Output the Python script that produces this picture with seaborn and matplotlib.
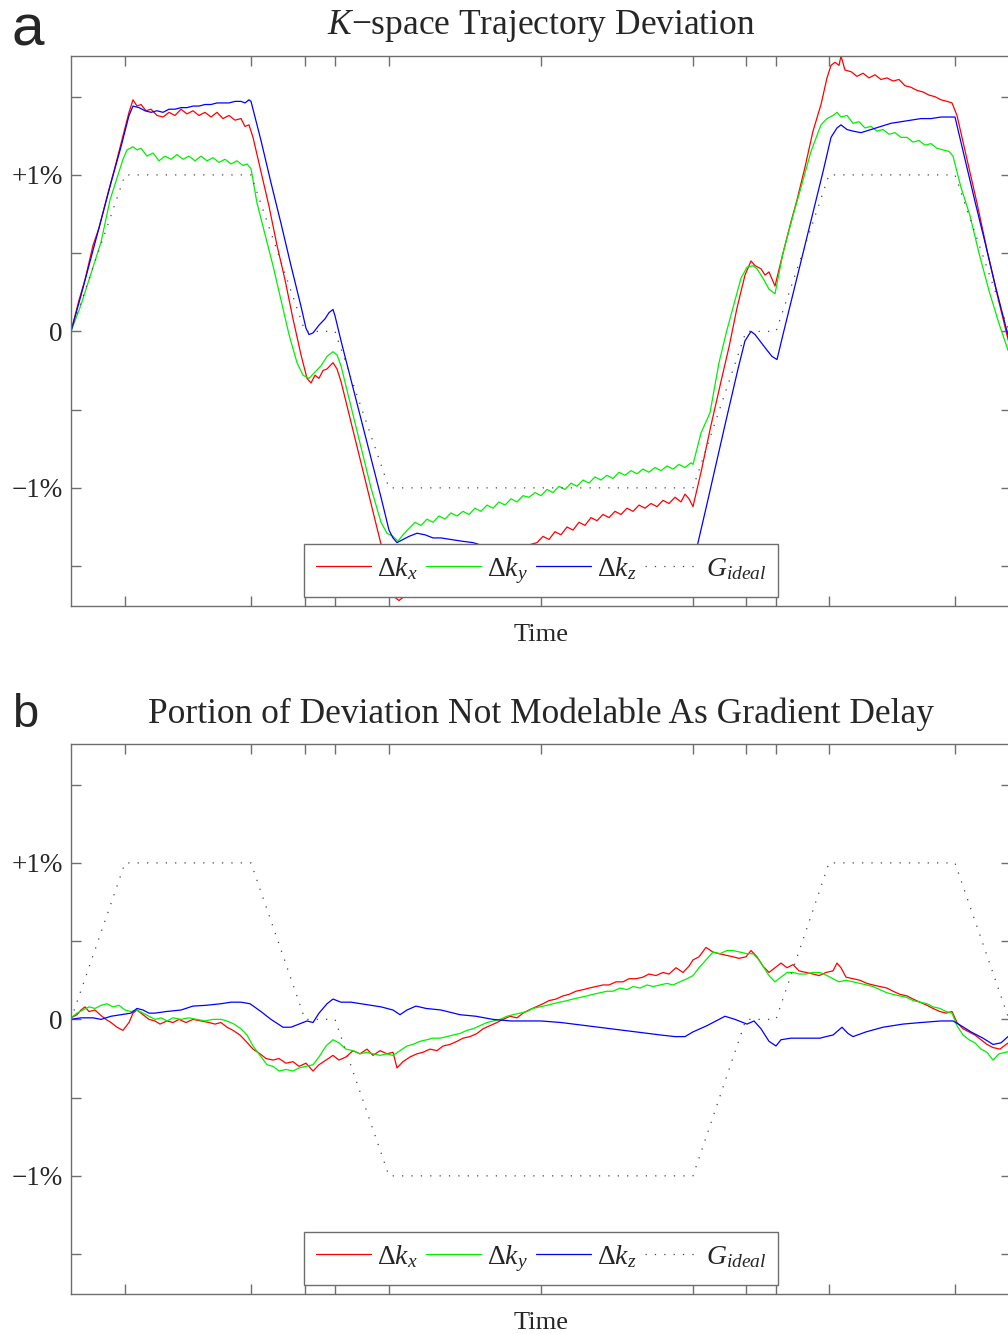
import matplotlib
matplotlib.use("Agg")
import matplotlib.pyplot as plt
import seaborn as sns
import pandas as pd

# ---------------- data ----------------
# time axis in arbitrary units (0 .. 940)
g_t = [0, 54, 180, 234, 264, 318, 622, 675, 705, 758, 884, 938]
g_v = [0, 1, 1, 0, 0, -1, -1, 0, 0, 1, 1, 0]

# Panel a: K-space trajectory deviation (%)
a_red_t = [0, 8, 14, 22, 28, 36, 44, 52, 58, 62, 66, 70, 75, 80, 86, 92, 98, 104, 110, 116, 122, 128, 134, 140,
           146, 152, 158, 164, 170, 174, 178,
           182, 190, 198, 206, 214, 222, 230, 236, 240, 244, 248, 252, 256, 262, 266, 270, 280, 290, 300, 310,
           318, 324, 328,
           340, 360, 380, 400, 420, 440, 455, 466,
           472, 478, 484, 490, 496, 502, 508, 514, 520, 526, 532, 538, 544, 550, 556, 562, 568, 574, 580, 586,
           592, 598, 604, 610, 614, 618, 622,
           630, 640, 650, 658, 666, 674, 680, 684, 690, 694, 698, 704,
           712, 720, 726, 734, 742, 750, 756, 760, 764, 768, 770, 774, 780, 786, 792, 798, 804, 810, 816, 822,
           828, 834, 840, 846, 852, 858, 864, 870, 876, 881,
           886, 896, 906, 916, 926, 937, 940]
a_red_v = [0, 0.20, 0.33, 0.55, 0.66, 0.86, 1.05, 1.25, 1.40, 1.48, 1.44, 1.45, 1.41, 1.42, 1.38, 1.37, 1.40,
           1.38, 1.42, 1.39, 1.41, 1.38, 1.40, 1.37, 1.40, 1.36, 1.38, 1.35, 1.36, 1.31, 1.32,
           1.24, 1.02, 0.80, 0.55, 0.33, 0.08, -0.15, -0.30, -0.33, -0.28, -0.30, -0.25, -0.24, -0.20, -0.24,
           -0.32, -0.58, -0.84, -1.10, -1.36, -1.56, -1.70, -1.72,
           -1.66, -1.60, -1.54, -1.49, -1.44, -1.40, -1.37, -1.35,
           -1.31, -1.33, -1.28, -1.30, -1.25, -1.27, -1.22, -1.24, -1.19, -1.21, -1.17, -1.19, -1.15, -1.17,
           -1.13, -1.15, -1.11, -1.13, -1.10, -1.12, -1.08, -1.10, -1.06, -1.09, -1.04, -1.07, -1.12,
           -0.90, -0.60, -0.32, -0.10, 0.15, 0.36, 0.45, 0.42, 0.40, 0.36, 0.38, 0.29,
           0.50, 0.70, 0.84, 1.05, 1.28, 1.45, 1.62, 1.70, 1.72, 1.70, 1.76, 1.67, 1.66, 1.63, 1.65, 1.62,
           1.64, 1.61, 1.62, 1.60, 1.61, 1.57, 1.56, 1.54, 1.53, 1.51, 1.50, 1.48, 1.47, 1.46,
           1.38, 1.10, 0.82, 0.52, 0.24, -0.05, -0.12]

a_grn_t = [0, 10, 20, 30, 39, 46, 52, 56, 62, 66, 70, 76, 82, 88, 94, 100, 106, 112, 118, 124, 130, 136, 142,
           148, 154, 160, 166, 172, 176, 180,
           186, 194, 202, 210, 218, 226, 232, 238, 244, 250, 256, 262, 266, 270, 280, 290, 300, 310, 316, 322,
           327, 332, 338, 344, 350, 356, 362, 368, 374, 380, 386, 392, 398, 404, 410, 416, 422, 428, 434, 440,
           446, 452, 458, 464, 470, 476, 482, 488, 494, 500, 506, 512, 518, 524, 530, 536, 542, 548, 554, 560,
           566, 572, 578, 584, 590, 596, 602, 608, 614, 620, 622,
           630, 639, 648, 656, 664, 670, 676, 682, 686, 692, 698, 704, 712, 722, 730, 740, 750, 756, 762, 766,
           770, 776, 782, 788, 794, 800, 806, 812, 818, 824, 830, 836, 842, 848, 854, 860, 866, 872, 878, 882,
           890, 899, 908, 918, 928, 937, 940]
a_grn_v = [0, 0.17, 0.37, 0.57, 0.84, 0.98, 1.10, 1.16, 1.18, 1.16, 1.17, 1.12, 1.14, 1.09, 1.12, 1.10, 1.13,
           1.10, 1.12, 1.09, 1.12, 1.09, 1.11, 1.08, 1.10, 1.07, 1.09, 1.06, 1.07, 1.04,
           0.82, 0.62, 0.42, 0.20, -0.02, -0.20, -0.28, -0.30, -0.26, -0.22, -0.16, -0.13, -0.15, -0.22, -0.48,
           -0.74, -1.00, -1.22, -1.29, -1.31, -1.34, -1.30, -1.26, -1.22, -1.24, -1.20, -1.22, -1.18, -1.20,
           -1.16, -1.18, -1.15, -1.17, -1.13, -1.15, -1.11, -1.13, -1.09, -1.11, -1.07, -1.09, -1.05, -1.06,
           -1.03, -1.05, -1.01, -1.03, -0.99, -1.01, -0.97, -0.99, -0.95, -0.97, -0.93, -0.95, -0.92, -0.94,
           -0.90, -0.92, -0.89, -0.91, -0.88, -0.90, -0.87, -0.89, -0.86, -0.88, -0.85, -0.87, -0.84, -0.85,
           -0.65, -0.52, -0.20, 0.01, 0.20, 0.34, 0.41, 0.42, 0.40, 0.34, 0.27, 0.24, 0.50, 0.74, 0.92, 1.15,
           1.32, 1.36, 1.38, 1.40, 1.37, 1.38, 1.33, 1.34, 1.30, 1.31, 1.28, 1.29, 1.26, 1.27, 1.24, 1.24, 1.21,
           1.22, 1.19, 1.20, 1.17, 1.16, 1.15, 1.12,
           0.92, 0.74, 0.50, 0.26, 0.05, -0.12, -0.16]

a_blu_t = [0, 10, 20, 30, 40, 50, 58, 62, 68, 74, 80, 86, 92, 98, 104, 110, 116, 122, 128, 134, 140, 146, 152,
           158, 164, 170, 174, 178, 180,
           190, 200, 210, 220, 230, 235, 238, 242, 248, 254, 258, 262, 264, 270, 280, 290, 300, 310, 318, 322,
           326, 332, 338, 346, 354, 362, 370, 380, 390, 402, 412,
           440, 480, 520, 560, 600, 616,
           627, 635, 645, 655, 667, 674, 680, 684, 690, 696, 701, 706, 712, 722, 732, 742, 752, 760, 766, 770,
           776, 782, 790, 800, 810, 820, 830, 840, 850, 860, 870, 880, 884,
           894, 904, 914, 924, 934, 940]
a_blu_v = [0, 0.23, 0.47, 0.71, 0.95, 1.18, 1.38, 1.44, 1.43, 1.41, 1.40, 1.41, 1.40, 1.42, 1.42, 1.43, 1.43,
           1.44, 1.44, 1.45, 1.45, 1.46, 1.46, 1.46, 1.47, 1.47, 1.46, 1.48, 1.47,
           1.22, 0.95, 0.69, 0.42, 0.16, 0.02, -0.02, -0.01, 0.04, 0.08, 0.12, 0.14, 0.10, -0.06, -0.31, -0.56,
           -0.81, -1.06, -1.27, -1.32, -1.35, -1.33, -1.31, -1.29, -1.30, -1.32, -1.32, -1.33, -1.34, -1.35,
           -1.37,
           -1.42, -1.47, -1.51, -1.55, -1.60, -1.66,
           -1.35, -1.13, -0.85, -0.57, -0.24, -0.06, 0.0, -0.02, -0.07, -0.12, -0.16, -0.18, -0.02, 0.24, 0.50,
           0.76, 1.02, 1.24, 1.30, 1.32, 1.29, 1.28, 1.27, 1.29, 1.31, 1.33, 1.34, 1.35, 1.36, 1.36, 1.37, 1.37,
           1.37,
           1.10, 0.83, 0.57, 0.30, 0.05, -0.10]

# Panel b: portion of deviation not modelable as gradient delay (%)
b_red_t = [0, 6, 10, 14, 18, 24, 29, 35, 40, 46, 52, 58, 62, 66, 72, 78, 84, 89, 96, 102, 108, 115, 122, 130,
           138, 144, 150, 156, 162, 169, 175, 182, 189, 195, 202, 208, 215, 222, 228, 235, 242, 248, 255, 262,
           268, 275, 282, 289, 296, 302, 309, 316, 322, 326, 332, 339, 346, 352, 359, 366, 372, 379, 386, 392,
           399, 406, 412, 419, 426, 432, 439, 446, 452, 458, 465, 472, 478, 485, 492, 498, 505, 512, 518, 525,
           532, 538, 545, 552, 558, 565, 572, 578, 585, 592, 598, 605, 612, 618, 622, 628, 635, 642, 648, 655,
           662, 668, 675, 680, 686, 692, 698, 704, 710, 716, 722, 728, 735, 742, 748, 755, 762, 766, 770, 775,
           782, 789, 796, 802, 809, 816, 822, 829, 836, 842, 849, 856, 862, 869, 875, 881, 886, 892, 898, 904,
           910, 916, 922, 929, 935, 940]
b_red_v = [0.01, 0.03, 0.06, 0.08, 0.05, 0.06, 0.03, 0.0, -0.02, -0.05, -0.07, -0.02, 0.04, 0.06, 0.03, 0.0,
           -0.01, -0.03, -0.01, -0.02, 0.0, -0.02, 0.0, -0.01, -0.02, -0.03, -0.02, -0.05, -0.07, -0.10, -0.14,
           -0.19, -0.22, -0.25, -0.26, -0.25, -0.28, -0.27, -0.30, -0.28, -0.33, -0.29, -0.26, -0.23, -0.26,
           -0.24, -0.20, -0.22, -0.19, -0.23, -0.20, -0.22, -0.21, -0.31, -0.27, -0.24, -0.22, -0.21, -0.19,
           -0.20, -0.17, -0.16, -0.14, -0.12, -0.11, -0.09, -0.06, -0.04, -0.02, 0.0, 0.02, 0.01, 0.04, 0.06,
           0.08, 0.10, 0.12, 0.13, 0.15, 0.16, 0.18, 0.19, 0.20, 0.21, 0.22, 0.22, 0.24, 0.24, 0.26, 0.26, 0.27,
           0.29, 0.28, 0.30, 0.29, 0.33, 0.30, 0.34, 0.38, 0.40, 0.46, 0.43, 0.42, 0.41, 0.40, 0.39, 0.40, 0.44,
           0.40, 0.34, 0.30, 0.33, 0.36, 0.33, 0.35, 0.31, 0.30, 0.29, 0.28, 0.30, 0.31, 0.36, 0.33, 0.27, 0.26,
           0.25, 0.23, 0.22, 0.21, 0.20, 0.18, 0.16, 0.15, 0.13, 0.11, 0.09, 0.07, 0.05, 0.04, 0.05, -0.02,
           -0.06, -0.08, -0.10, -0.13, -0.16, -0.18, -0.19, -0.16, -0.14]

b_grn_t = [0, 6, 12, 18, 24, 30, 36, 42, 48, 54, 60, 66, 72, 78, 84, 90, 96, 102, 110, 118, 126, 134, 142, 150,
           156, 163, 170, 176, 182, 189, 196, 202, 208, 215, 222, 228, 235, 242, 248, 255, 262, 268, 275, 282,
           289, 296, 302, 309, 316, 322, 329, 336, 342, 349, 356, 362, 369, 376, 382, 389, 396, 402, 409, 416,
           422, 429, 436, 442, 449, 456, 462, 469, 476, 482, 489, 496, 502, 509, 516, 522, 529, 536, 542, 549,
           556, 562, 569, 576, 582, 589, 596, 602, 609, 616, 622, 628, 635, 642, 649, 656, 662, 669, 676, 682,
           688, 692, 698, 704, 710, 716, 722, 728, 735, 742, 749, 756, 762, 768, 775, 782, 789, 796, 802, 809,
           816, 822, 829, 836, 842, 849, 856, 862, 869, 875, 881, 886, 892, 898, 904, 910, 916, 922, 928, 935,
           940]
b_grn_v = [0.01, 0.04, 0.06, 0.08, 0.07, 0.09, 0.10, 0.08, 0.09, 0.06, 0.05, 0.06, 0.04, 0.02, 0.0, 0.01,
           -0.01, 0.01, 0.0, 0.01, 0.0, -0.01, 0.0, 0.0, -0.01, -0.03, -0.06, -0.10, -0.17, -0.23, -0.29, -0.30,
           -0.33, -0.32, -0.33, -0.31, -0.30, -0.29, -0.24, -0.17, -0.13, -0.15, -0.19, -0.20, -0.22, -0.21,
           -0.22, -0.23, -0.22, -0.23, -0.20, -0.17, -0.16, -0.14, -0.13, -0.12, -0.12, -0.11, -0.10, -0.09,
           -0.07, -0.06, -0.04, -0.02, -0.01, 0.0, 0.02, 0.03, 0.04, 0.05, 0.07, 0.08, 0.09, 0.10, 0.11, 0.12,
           0.13, 0.14, 0.15, 0.16, 0.17, 0.18, 0.18, 0.20, 0.19, 0.21, 0.20, 0.22, 0.21, 0.22, 0.23, 0.22, 0.24,
           0.26, 0.28, 0.33, 0.38, 0.43, 0.42, 0.44, 0.44, 0.43, 0.42, 0.42, 0.38, 0.34, 0.28, 0.24, 0.27, 0.30,
           0.30, 0.29, 0.29, 0.30, 0.30, 0.28, 0.26, 0.24, 0.25, 0.24, 0.23, 0.22, 0.21, 0.19, 0.17, 0.16, 0.15,
           0.14, 0.12, 0.11, 0.10, 0.08, 0.07, 0.05, 0.04, -0.04, -0.10, -0.13, -0.15, -0.19, -0.21, -0.26,
           -0.22, -0.21, -0.20]

b_blu_t = [0, 10, 22, 30, 40, 50, 60, 66, 72, 78, 84, 95, 110, 122, 135, 150, 160, 170, 179, 190, 200, 212, 220,
           228, 236, 242, 248, 256, 262, 270, 280, 290, 300, 310, 322, 329, 336, 345, 355, 370, 389, 405, 422,
           440, 460, 470, 490, 515, 540, 565, 590, 604, 614, 622, 636, 645, 654, 664, 676, 683, 690, 698, 705,
           710, 720, 735, 749, 755, 762, 771, 777, 782, 795, 812, 832, 850, 870, 882, 890, 900, 912, 922, 930,
           937, 940]
b_blu_v = [0.0, 0.01, 0.01, 0.0, 0.02, 0.03, 0.04, 0.07, 0.06, 0.04, 0.04, 0.05, 0.06, 0.085, 0.09, 0.10, 0.11,
           0.11, 0.10, 0.05, 0.0, -0.05, -0.05, -0.03, -0.01, -0.02, 0.04, 0.10, 0.13, 0.11, 0.11, 0.10, 0.09,
           0.08, 0.06, 0.03, 0.06, 0.085, 0.07, 0.06, 0.03, 0.02, 0.0, -0.01, -0.01, -0.01, -0.02, -0.04, -0.06,
           -0.08, -0.10, -0.11, -0.11, -0.08, -0.04, -0.01, 0.02, 0.0, -0.03, -0.01, -0.06, -0.14, -0.17, -0.13,
           -0.12, -0.12, -0.12, -0.11, -0.10, -0.05, -0.09, -0.11, -0.08, -0.05, -0.03, -0.02, -0.01, -0.01,
           -0.04, -0.08, -0.12, -0.16, -0.15, -0.11, -0.10]

x_ticks = [54, 180, 234, 264, 318, 470, 622, 675, 705, 758, 884]
y_ticks = [-1.5, -1.0, -0.5, 0.0, 0.5, 1.0, 1.5]
y_labels = ["", "\u22121%", "", "0", "", "+1%", ""]
titles = ["$K$\u2212space Trajectory Deviation", "Portion of Deviation Not Modelable As Gradient Delay"]
legend_labels = [r"$\Delta k_x$", r"$\Delta k_y$", r"$\Delta k_z$", r"$G_{ideal}$"]
panel_letters = ["a", "b"]
x_label = "Time"

# ---------------- style ----------------
sns.set_style("white")
plt.rcParams["font.family"] = ["Liberation Serif", "DejaVu Serif"]
plt.rcParams["mathtext.fontset"] = "custom"
plt.rcParams["mathtext.rm"] = "Liberation Serif"
plt.rcParams["mathtext.it"] = "Liberation Serif:italic"
plt.rcParams["mathtext.bf"] = "Liberation Serif:bold"

W, H = 1008, 1334
fig = plt.figure(figsize=(W / 100, H / 100), dpi=100)

spine_col = "#6e6e6e"
panels = [
    (56, (a_red_t, a_red_v), (a_grn_t, a_grn_v), (a_blu_t, a_blu_v)),
    (744, (b_red_t, b_red_v), (b_grn_t, b_grn_v), (b_blu_t, b_blu_v)),
]
title_y = [34, 723]
letter_y = [45, 727]
letter_size = [42, 34]

for i, (top, red, grn, blu) in enumerate(panels):
    ax = fig.add_axes([71 / W, 1 - (top + 550) / H, 940 / W, 550 / H])
    ax.set_facecolor("white")
    lw = 0.9
    sns.lineplot(x=red[0], y=red[1], ax=ax, color="#ff0000", lw=lw, estimator=None, label=legend_labels[0])
    sns.lineplot(x=grn[0], y=grn[1], ax=ax, color="#00f000", lw=lw, estimator=None, label=legend_labels[1])
    sns.lineplot(x=blu[0], y=blu[1], ax=ax, color="#0000ff", lw=lw, estimator=None, label=legend_labels[2])
    sns.lineplot(x=g_t, y=g_v, ax=ax, color="#444444", lw=0.9, estimator=None, label=legend_labels[3],
                 linestyle=(0, (1, 6.5)))
    ax.set_xlim(0, 940)
    ax.set_ylim(-1.755, 1.76)
    ax.set_xticks(x_ticks)
    ax.set_xticklabels([])
    ax.set_yticks(y_ticks)
    ax.set_yticklabels(y_labels, fontsize=19.5)
    ax.tick_params(axis="both", direction="in", length=7, width=1, color=spine_col,
                   top=True, right=True, bottom=True, left=True, pad=6)
    for s in ax.spines.values():
        s.set_color(spine_col)
        s.set_linewidth(1.0)
        s.set_visible(True)
    ax.set_xlabel(x_label, fontsize=19, labelpad=7)
    ax.set_ylabel("")
    leg = ax.legend(loc="lower center", bbox_to_anchor=(0.5, 9 / 550), ncol=4, fontsize=20,
                    frameon=True, fancybox=False, framealpha=1, edgecolor=spine_col,
                    handlelength=2.0, handletextpad=0.2, columnspacing=0.3,
                    borderpad=0.4, borderaxespad=0)
    leg.get_frame().set_linewidth(1.0)
    fig.text(541 / W, 1 - title_y[i] / H, titles[i], ha="center", va="baseline", fontsize=25.5)
    fig.text(12 / W, 1 - letter_y[i] / H, panel_letters[i], ha="left", va="baseline",
             fontsize=letter_size[i], family=["Liberation Sans", "DejaVu Sans"])

fig.savefig("out.png", dpi=100, facecolor="white")
